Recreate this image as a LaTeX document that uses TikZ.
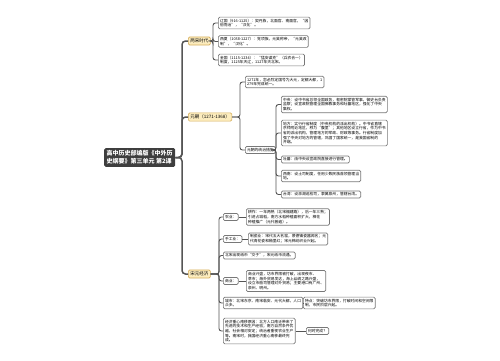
\documentclass[tikz,border=0pt]{standalone}
\usepackage{fontspec}
\setmainfont{Noto Sans CJK SC}
\definecolor{rootfill}{RGB}{62,62,62}
\definecolor{topicfill}{RGB}{252,236,190}
\definecolor{topicline}{RGB}{214,174,92}
\definecolor{leafline}{RGB}{120,120,120}
\definecolor{linegray}{RGB}{85,85,85}
\begin{document}
\begin{tikzpicture}[x=1pt,y=-1pt,line width=0.4pt,
  every node/.style={anchor=west,align=left,inner sep=1.7pt,font=\fontsize{3.8}{4.7}\selectfont},
  leaf/.style={draw=leafline,fill=white,rounded corners=1.3pt,line width=0.7pt},
  topic/.style={draw=topicline,fill=topicfill,rounded corners=1.3pt,line width=0.7pt,inner sep=2pt,font=\fontsize{4.5}{5.5}\selectfont},
  rootbox/.style={fill=rootfill,text=white,rounded corners=1.5pt,inner sep=2.5pt,font=\fontsize{6}{8}\selectfont\bfseries},
  trunk/.style={draw=linegray,line width=1.5pt,rounded corners=3.5pt},
  twig/.style={draw=linegray,line width=0.9pt,rounded corners=2.5pt}]
\path[use as bounding box] (0,0) rectangle (500,360);
\coordinate (sp) at (182,157.5);
\coordinate (sb) at (213,41);
\coordinate (yb) at (240,117);
\coordinate (cb) at (276,150);
\coordinate (eb) at (219,274);
\node[rootbox] (root) at (104,157.5) {高中历史部编版《中外历\\史纲要》第三单元 第2课};
\node[topic] (song) at (188,41) {两宋时代};
\node[topic] (yuan) at (188,117) {元朝（1271-1368）};
\node[topic] (econ) at (188,274) {宋元经济};
% first branch
\node[leaf] (liao) at (218,23) {辽国（916-1125）：契丹族，北面官、南面官，“因\\俗而治”，“汉化”。};
\node[leaf] (xia) at (218,41.5) {西夏（1038-1227）：党项族，元昊称帝，“元昊改\\制”，“汉化”。};
\node[leaf] (jin) at (218,60) {金国（1115-1234）：“猛安谋克”（兵农合一）\\制度，1125年灭辽，1127年灭北宋。};
% second branch
\node[leaf] (tong) at (245,82) {1271年，忽必烈定国号为大元，定都大都，1\\279年完成统一。};
\node[leaf] (cuoshi) at (245,150) {元朝的统治措施};
\node[leaf] (zhongyang) at (281,104.5) {中央：设中书省总领全国政务，枢密院掌管军事，御史台负责\\监察；设宣政院管理全国佛教事务和吐蕃地区，强化了中央\\集权。};
\node[leaf] (difang) at (281,133) {地方：实行行省制度（中央机构的派出机构）。中书省直辖\\京师附近地区，称为“腹里”；其他地区设立行省，作为中书\\省的派出机构，管理地方的军政、财政等事务。行省制度加\\强了中央对地方的管辖，巩固了国家统一，是我国省制的\\开端。};
\node[leaf] (tubo) at (281,159.5) {吐蕃：由中央设宣政院直接进行管理。};
\node[leaf] (xinan) at (281,176) {西南：设土司制度，任用少数民族首领管理当\\地。};
\node[leaf] (taiwan) at (281,194.5) {台湾：设澎湖巡检司，隶属泉州，管辖台湾。};
% third branch
\node[leaf] (nong) at (223,217) {农业：};
\node[leaf] (nongx) at (246,217) {耕作：一年两熟（北宋福建路），后一年三熟；\\引进占城稻，南方水稻种植面积扩大，棉花\\种植推广（元代普遍）。};
\node[leaf] (shou) at (223,239) {手工业：};
\node[leaf] (shoux) at (248,239) {制瓷业：宋代五大名窑，景德镇瓷器闻名；元\\代青花瓷和釉里红；宋元棉纺织业兴起。};
\node[leaf] (zhibi) at (223,255.5) {北宋出现纸币“交子”，宋元纸币流通。};
\node[leaf] (shang) at (223,281) {商业：};
\node[leaf] (shangx) at (246,281) {商业兴盛，坊市界限被打破，出现夜市、\\草市；海外贸易发达，海上丝绸之路兴盛，\\设立市舶司管理对外贸易；主要港口有广州、\\泉州、明州。};
\node[leaf] (cheng) at (223,303) {城市：北宋东京、南宋临安、元代大都，人口\\众多。};
\node[leaf] (chengx) at (303,303) {特点：突破坊市界限，打破时间和空间限\\制，市民阶层兴起。};
\node[leaf] (nanyi) at (223,331) {经济重心南移原因：北方人口南迁带来了\\先进的技术和生产经验；南方自然条件优\\越，社会相对安定；统治者重视农业生产\\等。南宋时，我国经济重心南移最终完\\成。};
\node[leaf] (nanyix) at (306,331) {何时完成？};
% connectors
\draw[trunk] (root.east) -- (sp) |- (song.west);
\draw[trunk] (root.east) -- (sp) |- (yuan.west);
\draw[trunk] (root.east) -- (sp) |- (econ.west);
\draw[twig] (song.east) -- (sb) |- (liao.west);
\draw[twig] (song.east) -- (sb) |- (xia.west);
\draw[twig] (song.east) -- (sb) |- (jin.west);
\draw[twig] (yuan.east) -- (yb) |- (tong.west);
\draw[twig] (yuan.east) -- (yb) |- (cuoshi.west);
\draw[twig] (cuoshi.east) -- (cb) |- (zhongyang.west);
\draw[twig] (cuoshi.east) -- (cb) |- (difang.west);
\draw[twig] (cuoshi.east) -- (cb) |- (tubo.west);
\draw[twig] (cuoshi.east) -- (cb) |- (xinan.west);
\draw[twig] (cuoshi.east) -- (cb) |- (taiwan.west);
\draw[twig] (econ.east) -- (eb) |- (nong.west);
\draw[twig] (econ.east) -- (eb) |- (shou.west);
\draw[twig] (econ.east) -- (eb) |- (zhibi.west);
\draw[twig] (econ.east) -- (eb) |- (shang.west);
\draw[twig] (econ.east) -- (eb) |- (cheng.west);
\draw[twig] (econ.east) -- (eb) |- (nanyi.west);
\draw[twig] (nong.east) -- (nongx.west);
\draw[twig] (shou.east) -- (shoux.west);
\draw[twig] (shang.east) -- (shangx.west);
\draw[twig] (cheng.east) -- (chengx.west);
\draw[twig] (nanyi.east) -- (nanyix.west);
\end{tikzpicture}
\end{document}
